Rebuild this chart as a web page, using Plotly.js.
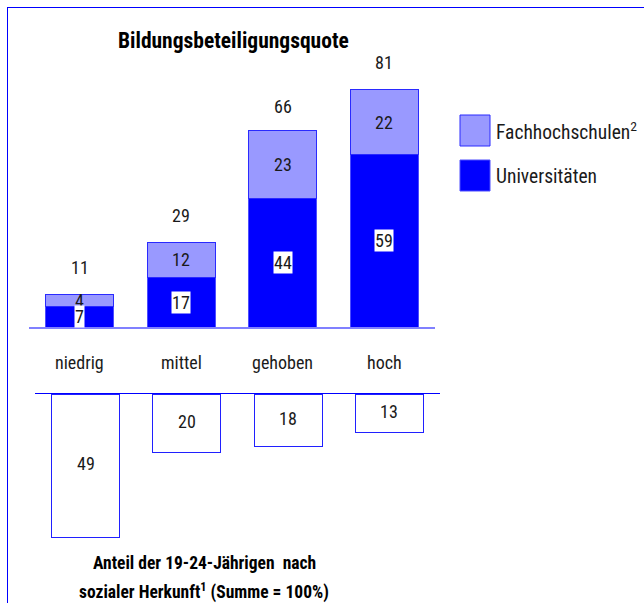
<!DOCTYPE html>
<html><head><meta charset="utf-8">
<script src="https://cdn.plot.ly/plotly-3.0.1.min.js"></script>
<style>html,body{margin:0;padding:0;background:#fff;}</style>
</head><body><div id="chart" style="width:644px;height:603px;"></div>
<script>
// ---- data ----
const categories = ['niedrig', 'mittel', 'gehoben', 'hoch'];
const universitaeten = [7, 17, 44, 59];
const fachhochschulen = [4, 12, 23, 22];
const totals = [11, 29, 66, 81];
const anteilHerkunft = [49, 20, 18, 13];
const seriesNames = ['Universitäten', 'Fachhochschulen<sup>2</sup>'];
const titleTop = 'Bildungsbeteiligungsquote';
const titleBottomLines = ['Anteil der 19-24-Jährigen  nach', 'sozialer Herkunft<sup>1</sup> (Summe = 100%)'];

// ---- geometry helpers ----
const W = 644, H = 603;
const px = x => x / W;
const py = y => 1 - y / H;
const k = 2.926; // pixels per percentage point
const FONT = "'Roboto Condensed', 'Liberation Sans', sans-serif";
const TXT = '#1a1a1a';

const traces = [
  { type: 'bar', x: categories, y: universitaeten, xaxis: 'x', yaxis: 'y',
    marker: { color: '#0000ff', line: { color: '#4d4dff', width: 1 } },
    name: seriesNames[0], hoverinfo: 'none', showlegend: false },
  { type: 'bar', x: categories, y: fachhochschulen, xaxis: 'x', yaxis: 'y',
    marker: { color: '#9999ff', line: { color: '#2a2aff', width: 1 } },
    name: seriesNames[1], hoverinfo: 'none', showlegend: false },
  { type: 'bar', x: categories, y: anteilHerkunft, xaxis: 'x2', yaxis: 'y2',
    marker: { color: '#ffffff', line: { color: '#2020ff', width: 1 } },
    name: 'Anteil', hoverinfo: 'none', showlegend: false }
];

const annotations = [];
categories.forEach((c, i) => {
  annotations.push({ xref: 'x', yref: 'y', x: c, y: totals[i], text: String(totals[i]),
    showarrow: false, yanchor: 'middle', yshift: 27, font: { family: FONT, size: 18, color: TXT } });
  annotations.push({ xref: 'x', yref: 'y', x: c, y: universitaeten[i] + fachhochschulen[i] / 2,
    text: String(fachhochschulen[i]), showarrow: false, yanchor: 'middle',
    font: { family: FONT, size: 18, color: TXT } });
  annotations.push({ xref: 'x', yref: 'y', x: c, y: universitaeten[i] / 2,
    text: String(universitaeten[i]), showarrow: false, yanchor: 'middle', bgcolor: '#ffffff', borderpad: 0,
    font: { family: FONT, size: 18, color: TXT } });
  annotations.push({ xref: 'x', yref: 'paper', x: c, y: py(362), text: c, showarrow: false,
    yanchor: 'middle', font: { family: FONT, size: 18, color: TXT } });
  annotations.push({ xref: 'x2', yref: 'y2', x: c, y: anteilHerkunft[i] / 2,
    text: String(anteilHerkunft[i]), showarrow: false, yanchor: 'middle', yshift: 2,
    font: { family: FONT, size: 18, color: TXT } });
});
annotations.push({ xref: 'paper', yref: 'paper', x: px(233), y: py(40), text: '<b>' + titleTop + '</b>',
  showarrow: false, xanchor: 'center', yanchor: 'middle', font: { family: FONT, size: 21.5, color: '#000' } });
annotations.push({ xref: 'paper', yref: 'paper', x: px(204), y: py(563), text: '<b>' + titleBottomLines[0] + '</b>',
  showarrow: false, xanchor: 'center', yanchor: 'middle', font: { family: FONT, size: 17.5, color: '#000' } });
annotations.push({ xref: 'paper', yref: 'paper', x: px(204), y: py(591), text: '<b>' + titleBottomLines[1] + '</b>',
  showarrow: false, xanchor: 'center', yanchor: 'middle', font: { family: FONT, size: 17.5, color: '#000' } });
// legend texts
annotations.push({ xref: 'paper', yref: 'paper', x: px(494), y: py(131), text: seriesNames[1],
  showarrow: false, xanchor: 'left', yanchor: 'middle', font: { family: FONT, size: 19.5, color: TXT } });
annotations.push({ xref: 'paper', yref: 'paper', x: px(494), y: py(176), text: seriesNames[0],
  showarrow: false, xanchor: 'left', yanchor: 'middle', font: { family: FONT, size: 19.5, color: TXT } });

const shapes = [
  // frame
  { type: 'line', xref: 'paper', yref: 'paper', x0: px(7.5), x1: px(7.5), y0: py(7), y1: py(603), line: { color: '#0000ff', width: 1 } },
  { type: 'line', xref: 'paper', yref: 'paper', x0: px(7), x1: px(644), y0: py(7.5), y1: py(7.5), line: { color: '#0000ff', width: 1 } },
  // legend swatches
  { type: 'rect', xref: 'paper', yref: 'paper', x0: px(460), x1: px(490), y0: py(115), y1: py(146), fillcolor: '#9999ff', line: { color: '#2a2aff', width: 1 } },
  { type: 'rect', xref: 'paper', yref: 'paper', x0: px(460), x1: px(490), y0: py(160), y1: py(191), fillcolor: '#0000ff', line: { color: '#4d4dff', width: 1 } }
];

const layout = {
  width: W, height: H,
  margin: { l: 0, r: 0, t: 0, b: 0 },
  paper_bgcolor: '#ffffff', plot_bgcolor: 'rgba(0,0,0,0)',
  barmode: 'stack', bargap: 0.33,
  showlegend: false,
  font: { family: FONT, color: TXT },
  xaxis: { domain: [px(29), px(435)], anchor: 'y', type: 'category', showline: true, linecolor: '#8080ff', linewidth: 2,
    showticklabels: false, ticks: '', showgrid: false, zeroline: false, fixedrange: true },
  yaxis: { domain: [py(327), py(20)], range: [0, (327 - 20) / k], anchor: 'x', visible: false, showgrid: false, zeroline: false, fixedrange: true },
  xaxis2: { domain: [px(35), px(440)], anchor: 'y2', side: 'top', type: 'category', showline: true, linecolor: '#0000ff', linewidth: 1,
    showticklabels: false, ticks: '', showgrid: false, zeroline: false, fixedrange: true },
  yaxis2: { domain: [py(565), py(394)], range: [(565 - 394) / k, 0], anchor: 'x2', visible: false, showgrid: false, zeroline: false, fixedrange: true },
  annotations: annotations,
  shapes: shapes
};

Plotly.newPlot('chart', traces, layout, { staticPlot: true, displayModeBar: false });
</script>
</body></html>
